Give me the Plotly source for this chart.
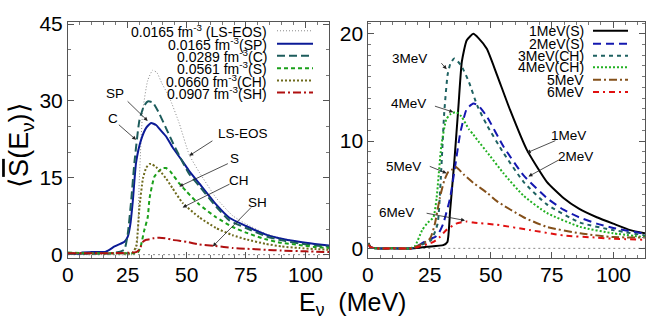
import plotly.graph_objects as go

# ---------------- data: left panel (densities) ----------------
ls_x = [0, 10, 20, 27, 28.7, 30, 31.5, 33.6, 35.7, 37.5, 39.5, 42.7, 46.9, 51.1, 55.3, 62.4, 69.4, 75, 83.4, 90, 97.4, 104, 110]
ls_y = [0, 0, 0, 0, 0.5, 14, 28, 34, 36, 35.5, 33.5, 30.7, 25.6, 19.5, 16.1, 11.1, 7.6, 6.0, 4.1, 3.2, 2.5, 2.0, 1.7]

sp_x = [0, 5, 6, 10, 16, 19.6, 22, 23.8, 25.2, 26.3, 27.3, 28.7, 30.8, 33, 35, 37.1, 39, 41.3, 44, 48.3, 51.1, 55.3, 62.4, 68, 75, 83.4, 89, 97.4, 104, 110]
sp_y = [0.2, 0.2, 0.45, 0.5, 0.6, 1.6, 2.1, 2.5, 3.5, 6, 10.4, 18, 22.4, 24.8, 25.7, 25.3, 24.3, 23.1, 21.0, 18.2, 16.3, 13.9, 9.8, 7.2, 5.6, 3.9, 3.2, 2.5, 2.1, 1.8]

c_x = [0, 10, 18, 22, 23.8, 25.2, 26.6, 28, 30.1, 32, 33.6, 35.7, 38.5, 41.3, 44, 46.9, 51, 55.3, 62.4, 68, 75, 83.4, 90, 97.4, 104, 110]
c_y = [0.2, 0.2, 0.3, 0.6, 1.0, 4.1, 10.4, 18, 26.2, 29, 29.9, 29.7, 27.5, 24.7, 22, 19.3, 15.8, 13.4, 9.4, 6.7, 5.2, 3.6, 2.8, 2.2, 1.8, 1.6]

s_x = [0, 10, 20, 29.4, 30.8, 32, 33.6, 34.4, 36.4, 38.5, 40, 41.3, 43, 46.9, 50, 55.3, 62.4, 69.4, 75, 83.4, 90, 97.4, 104, 110]
s_y = [0.4, 0.3, 0.3, 0.4, 1.9, 4.5, 7.3, 11.1, 15.2, 16.4, 16.9, 16.9, 16.3, 13.9, 12.3, 9.8, 7.3, 5.4, 4.3, 3.0, 2.3, 1.9, 1.5, 1.3]

ch_x = [0, 10, 20, 27, 28.7, 30.1, 31.6, 33, 34.4, 35.5, 37.1, 39, 41.3, 44, 48.3, 55.3, 62.4, 69.4, 75, 83.4, 90, 97.4, 104, 110]
ch_y = [0.3, 0.3, 0.3, 0.3, 1.6, 9.2, 14.9, 17, 17.7, 17.6, 17.1, 16.2, 14.9, 13, 10.1, 7.3, 5.2, 3.8, 3.0, 2.1, 1.6, 1.3, 1.1, 0.95]

sh_x = [0, 10, 20, 28.7, 30.1, 31.6, 33, 34.4, 36, 38.5, 41, 44.1, 50, 55.3, 62, 69.4, 75, 83.4, 90, 100, 110]
sh_y = [0.3, 0.3, 0.3, 0.5, 1.0, 2.5, 2.9, 3.0, 3.2, 3.3, 3.2, 2.9, 2.5, 2.0, 1.7, 1.3, 1.15, 0.95, 0.8, 0.65, 0.5]

# ---------------- data: right panel (energies) ----------------
m1_x = [0, 1, 3, 10, 18.4, 23.9, 30.6, 32.3, 33.4, 35.1, 36.8, 38.2, 40.2, 42.9, 45, 48.4, 52.5, 57.9, 64.7, 72.9, 79.7, 86, 93.3, 100, 107, 113]
m1_y = [0.5, 0.1, 0, 0, 0, 0.15, 0.3, 0.6, 3.5, 8, 13.2, 17.4, 19.4, 20, 19.6, 18.6, 16.2, 12.9, 9.2, 6.2, 4.7, 3.7, 2.9, 2.3, 1.7, 1.4]

m2_x = [0, 1, 3, 10, 18, 20, 23.9, 27.2, 28.5, 30.6, 33.4, 35.5, 37.6, 40.2, 42.9, 45, 48.4, 55.2, 63.4, 72.9, 79.7, 86, 93.3, 100, 113]
m2_y = [0.4, 0.1, 0, 0, 0, 0.2, 0.75, 1.05, 1.3, 2.3, 4.7, 7.7, 10.8, 13, 13.5, 13.3, 12.3, 9.5, 6.8, 4.7, 3.6, 2.9, 2.3, 1.9, 1.35]

m3_x = [0, 1, 3, 10, 18, 20, 25.6, 28.3, 29.6, 31, 32.4, 33.5, 35.1, 37.8, 41.1, 44.5, 48.4, 55.2, 63.4, 72.9, 86.5, 100, 113]
m3_y = [0.4, 0.1, 0, 0, 0, 0.2, 0.75, 2.3, 6.5, 12.6, 16.2, 17.2, 17.7, 17.1, 15.5, 13.3, 11.5, 8.9, 6.2, 4.1, 2.4, 1.7, 1.2]

m4_x = [0, 1, 3, 10, 17, 19, 22, 23.9, 26.6, 27.9, 29.8, 31.8, 33.5, 35.9, 38, 41.1, 42.9, 45.2, 48.4, 55.2, 63.4, 72.9, 86.5, 100, 113]
m4_y = [0.4, 0.1, 0, 0, 0, 0.2, 1.7, 2.3, 2.9, 4.7, 9.5, 12, 12.5, 12.7, 12.3, 11.1, 10.6, 9.9, 9.0, 7.0, 4.9, 3.3, 2.0, 1.4, 1.05]

m5_x = [0, 1, 3, 10, 18, 20, 25.2, 27.2, 29.2, 31, 32.6, 34, 35.5, 36.8, 38.9, 42.9, 48.4, 52.5, 63.4, 72.9, 86.5, 100, 113]
m5_y = [0.4, 0.1, 0, 0, 0, 0.2, 0.9, 2.3, 4.7, 6.3, 7.1, 7.3, 7.6, 7.4, 6.9, 6.1, 5.2, 4.4, 2.9, 2.0, 1.4, 1.05, 1.0]

m6_x = [0, 1, 3, 10, 18, 20, 26.6, 29.2, 31.8, 35.9, 40.2, 42.9, 52.5, 66.1, 79.7, 93.3, 100, 113]
m6_y = [0.3, 0.1, 0, 0, 0, 0.1, 0.6, 1.05, 1.7, 2.3, 2.5, 2.4, 2.2, 1.7, 1.2, 1.0, 0.9, 0.8]

x_ticks = [0, 25, 50, 75, 100]
x_tick_labels = ["0", "25", "50", "75", "100"]
left_y_ticks = [0, 15, 30, 45]
right_y_ticks = [0, 10, 20]

left_names = ["0.0165 fm<sup>-3</sup> (LS-EOS)", "0.0165 fm<sup>-3</sup>(SP)", "0.0289 fm<sup>-3</sup>(C)",
              "0.0561 fm<sup>-3</sup>(S)", "0.0660 fm<sup>-3</sup>(CH)", "0.0907 fm<sup>-3</sup>(SH)"]
right_names = ["1MeV(S)", "2MeV(S)", "3MeV(CH)", "4MeV(CH)", "5MeV", "6MeV"]

FONT = "Liberation Sans, Arial, Helvetica, sans-serif"

left_styles = [
    dict(color="#8a8a8a", width=1, dash="1px,2px"),
    dict(color="#0b1a96", width=2, dash="solid"),
    dict(color="#1d5c5c", width=2, dash="8px,4px"),
    dict(color="#1aa01a", width=2, dash="4px,3px"),
    dict(color="#6e6a1c", width=2, dash="2px,2px"),
    dict(color="#b01010", width=2, dash="8px,3px,2px,3px"),
]
right_styles = [
    dict(color="#000000", width=2, dash="solid"),
    dict(color="#1418b0", width=2, dash="8px,5px"),
    dict(color="#1f6262", width=2, dash="4px,4px"),
    dict(color="#22b022", width=2, dash="2px,2px"),
    dict(color="#84501a", width=2, dash="8px,3px,2px,3px"),
    dict(color="#e01010", width=2, dash="6px,4px,2px,4px"),
]

left_series = [(ls_x, ls_y), (sp_x, sp_y), (c_x, c_y), (s_x, s_y), (ch_x, ch_y), (sh_x, sh_y)]
right_series = [(m1_x, m1_y), (m2_x, m2_y), (m3_x, m3_y), (m4_x, m4_y), (m5_x, m5_y), (m6_x, m6_y)]

fig = go.Figure()

# zero reference lines
fig.add_trace(go.Scatter(x=[0, 110], y=[0, 0], mode="lines", xaxis="x", yaxis="y",
                         line=dict(color="#8a8a8a", width=1, dash="2px,3px"), showlegend=False, hoverinfo="skip"))
fig.add_trace(go.Scatter(x=[0, 113], y=[0, 0], mode="lines", xaxis="x2", yaxis="y2",
                         line=dict(color="#8a8a8a", width=1, dash="2px,3px"), showlegend=False, hoverinfo="skip"))

for (xs, ys), st, nm in zip(left_series, left_styles, left_names):
    fig.add_trace(go.Scatter(x=xs, y=ys, mode="lines", name=nm, xaxis="x", yaxis="y",
                             line=dict(shape="spline", smoothing=0.5, **st), showlegend=False))
for (xs, ys), st, nm in zip(right_series, right_styles, right_names):
    fig.add_trace(go.Scatter(x=xs, y=ys, mode="lines", name=nm, xaxis="x2", yaxis="y2",
                             line=dict(shape="spline", smoothing=0.5, **st), showlegend=False))

# ---------------- geometry helpers (pixels -> paper) ----------------
W, H = 668, 328
ML, MR, MT, MB = 68, 23, 16, 70
PW, PH = W - ML - MR, H - MT - MB


def px(xp):
    return (xp - ML) / PW


def py(yp):
    return (H - MB - yp) / PH


axis_common = dict(showline=True, linecolor="#555555", linewidth=1, mirror="allticks",
                   ticks="inside", ticklen=6, tickcolor="#555555", showgrid=False, zeroline=False,
                   tickfont=dict(family=FONT, size=21, color="#000"))
minor_common = dict(ticks="inside", ticklen=3, tickcolor="#777777", showgrid=False)

fig.update_layout(
    width=W, height=H, margin=dict(l=ML, r=MR, t=MT, b=MB),
    paper_bgcolor="white", plot_bgcolor="white", showlegend=False,
    font=dict(family=FONT, size=13, color="#000"),
    xaxis=dict(domain=[0, px(329)], range=[0, 110], tickvals=x_ticks, showticklabels=False,
               minor=dict(dtick=5, **minor_common), anchor="y", **axis_common),
    yaxis=dict(domain=[0, 1], range=[-0.65, 45.4], tickvals=left_y_ticks,
               minor=dict(dtick=5, **minor_common), anchor="x", **axis_common),
    xaxis2=dict(domain=[px(368.3), 1], range=[0, 113], tickvals=x_ticks, showticklabels=False,
                minor=dict(dtick=5, **minor_common), anchor="y2", **axis_common),
    yaxis2=dict(domain=[0, 1], range=[-0.9, 21.1], tickvals=right_y_ticks,
                minor=dict(dtick=1, **minor_common), anchor="x2", **axis_common),
)

annotations = []
shapes = []

# x tick labels placed at the tick values of each x axis
for xr in ("x", "x2"):
    for v, lab in zip(x_ticks, x_tick_labels):
        annotations.append(dict(xref=xr, yref="paper", x=v, y=py(275), text=lab, showarrow=False,
                                xanchor="center", yanchor="middle",
                                font=dict(size=21, family=FONT, color="#000")))

# ---------------- custom gnuplot-style keys ----------------
left_rows = [25, 38.3, 50.7, 63.3, 76, 88.3]
right_rows = [25, 38.3, 50.7, 62.3, 75.3, 87.7]
for nm, st, r in zip(left_names, left_styles, left_rows):
    annotations.append(dict(xref="paper", yref="paper", x=px(269), y=py(r), text=nm, showarrow=False,
                            xanchor="right", yanchor="middle", font=dict(size=14, family=FONT)))
    shapes.append(dict(type="line", xref="paper", yref="paper", x0=px(277), x1=px(313), y0=py(r), y1=py(r),
                       line=dict(color=st["color"], width=st["width"], dash=st["dash"])))
for nm, st, r in zip(right_names, right_styles, right_rows):
    annotations.append(dict(xref="paper", yref="paper", x=px(586), y=py(r), text=nm, showarrow=False,
                            xanchor="right", yanchor="middle", font=dict(size=14, family=FONT)))
    shapes.append(dict(type="line", xref="paper", yref="paper", x0=px(593), x1=px(628), y0=py(r), y1=py(r),
                       line=dict(color=st["color"], width=st["width"], dash=st["dash"])))

# ---------------- labels with arrows ----------------
left_labels = [  # text, tx, ty, tail x, tail y, head x, head y
    ("SP", 19.6, 31.4, 24.5, 30.2, 33.6, 26.1),
    ("C", 18.9, 26.6, 20.8, 25.6, 28.7, 22.4),
    ("LS-EOS", 73.6, 23.7, 61.5, 22.4, 51.1, 19.3),
    ("S", 70.0, 18.8, 68.0, 17.9, 46.9, 13.3),
    ("CH", 72.2, 14.5, 68.7, 13.9, 48.3, 9.2),
    ("SH", 79.9, 10.1, 77.8, 9.5, 61.0, 1.6),
]
right_labels = [
    ("3MeV", 17.0, 17.7, 29.3, 17.4, 32.0, 16.7),
    ("4MeV", 16.3, 13.5, 26.6, 13.3, 34.7, 12.7),
    ("5MeV", 14.3, 7.6, 24.5, 7.7, 32.0, 7.0),
    ("6MeV", 11.6, 3.3, 23.2, 3.3, 39.5, 2.6),
    ("1MeV", 81.7, 10.5, 77.0, 10.1, 64.7, 8.9),
    ("2MeV", 84.5, 8.6, 78.3, 8.3, 65.4, 6.7),
]
for labels, xr, yr in ((left_labels, "x", "y"), (right_labels, "x2", "y2")):
    for t, tx, ty, ax, ay, hx, hy in labels:
        annotations.append(dict(xref=xr, yref=yr, x=tx, y=ty, text=t, showarrow=False,
                                font=dict(size=13.5, family=FONT)))
        annotations.append(dict(xref=xr, yref=yr, axref=xr, ayref=yr, x=hx, y=hy, ax=ax, ay=ay, text="",
                                showarrow=True, arrowhead=2, arrowsize=1, arrowwidth=0.8, arrowcolor="#222"))

# ---------------- axis titles ----------------
annotations.append(dict(xref="paper", yref="paper", x=px(21), y=py(142), textangle=-90,
                        text="\u27e8<span style='text-decoration:overline'>S</span>(E<sub>\u03bd</sub>)\u27e9",
                        showarrow=False,
                        font=dict(size=27, family=FONT), xanchor="center", yanchor="middle"))
annotations.append(dict(xref="paper", yref="paper", x=px(352.5), y=py(305),
                        text="E<sub>\u03bd</sub>  (MeV)", showarrow=False,
                        font=dict(size=25, family="Liberation Sans Narrow, " + FONT),
                        xanchor="center", yanchor="middle"))

fig.update_layout(annotations=annotations, shapes=shapes)
fig.write_html("out.html", config={"displayModeBar": False},
               post_script="document.body.style.margin='0';document.body.style.padding='0';")
